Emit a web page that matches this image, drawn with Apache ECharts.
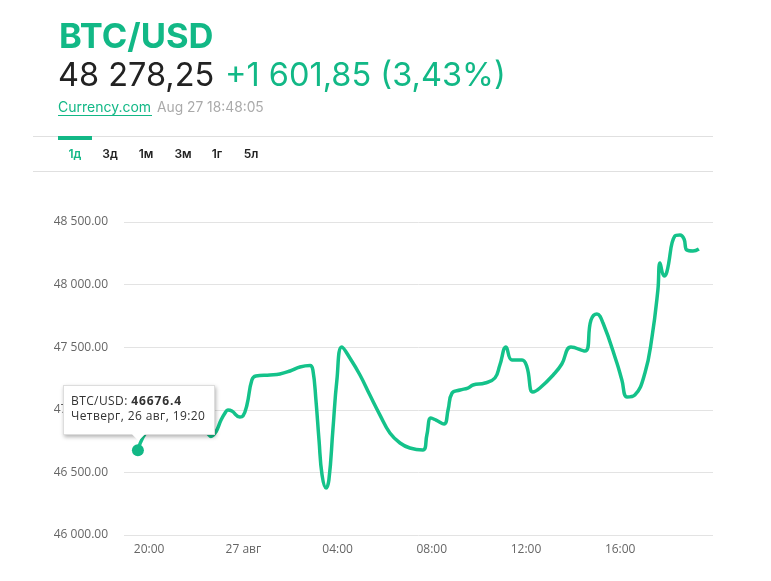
<!DOCTYPE html>
<html>
<head>
<meta charset="utf-8">
<style>html,body{margin:0;padding:0;background:#fff}#main{width:771px;height:581px}</style>
<script src="https://cdn.jsdelivr.net/npm/echarts@6/dist/echarts.min.js"></script>
</head>
<body>
<div id="main"></div>
<script>
// hours counted from 26 aug 00:00
var hours = [19.33,19.55,19.85,20.48,21.12,21.75,22.09,22.31,22.43,22.64,22.86,23.03,23.15,23.32,23.66,23.79,23.96,24.17,24.34,24.94,25.36,25.79,26.21,26.64,26.76,26.89,27.02,27.15,27.32,27.44,27.61,27.78,27.99,28.33,28.76,29.18,29.61,30.03,30.46,30.88,31.43,31.60,31.77,31.99,32.33,32.50,32.67,33.01,33.34,33.56,34.07,34.49,34.70,34.96,35.21,35.64,35.85,36.10,36.40,37.04,37.33,37.72,38.31,38.57,38.82,39.08,39.67,39.88,40.10,40.43,40.86,41.16,41.41,41.50,41.67,41.79,42.13,42.35,42.52,42.64,42.90,43.15];
var prices = [46676.4,46783,46855,46934,46982,46918,46839,46807,46787,46823,46918,46974,46998,46990,46942,46950,47038,47238,47270,47278,47286,47310,47342,47354,47318,47078,46759,46479,46375,46439,46839,47238,47502,47414,47278,47118,46958,46815,46735,46695,46679,46799,46934,46918,46887,46998,47134,47158,47174,47198,47214,47254,47358,47502,47398,47398,47342,47142,47174,47294,47366,47502,47470,47717,47765,47693,47374,47238,47102,47118,47294,47581,47957,48172,48069,48101,48388,48396,48364,48276,48268,48284];
var tickHours = [20,24,28,32,36,40];
var tickLabels = ['20:00','27 авг','04:00','08:00','12:00','16:00'];
var tabs = ['1д','3д','1м','3м','1г','5л'];
var tabX = [75,110,146,183,217,251];

var green = '#12b886';
var lineGreen = '#13b17e';
var chartFont = '"Open Sans"';
var headFont = 'Inter';

var chart = echarts.init(document.getElementById('main'));

var graphics = [
  {type:'text',left:59,top:20,style:{text:'BTC/USD',fill:green,font:'700 34.5px '+headFont}},
  {type:'text',left:58,top:60,style:{text:'48 278,25',fill:'#222',font:'400 32.5px '+headFont}},
  {type:'text',left:225,top:60,style:{text:'+1 601,85 (3,43%)',fill:green,font:'400 32.5px '+headFont}},
  {type:'text',left:58,top:101,style:{text:'Currency.com',fill:green,font:'400 14px '+headFont}},
  {type:'rect',shape:{x:58,y:115,width:94,height:1},style:{fill:green}},
  {type:'text',left:157,top:101,style:{text:'Aug 27 18:48:05',fill:'#aaa',font:'400 13.8px '+headFont}},
  {type:'rect',shape:{x:33,y:136,width:680,height:1},style:{fill:'#e0e0e0'}},
  {type:'rect',shape:{x:33,y:171,width:680,height:1},style:{fill:'#e0e0e0'}},
  {type:'rect',shape:{x:58,y:136,width:34,height:4},style:{fill:green}}
];
tabs.forEach(function (t, i) {
  graphics.push({type:'text',x:tabX[i],y:154,style:{text:t,align:'center',verticalAlign:'middle',fill:i === 0 ? green : '#222',font:'600 12px '+headFont}});
});

var option = {
  animation: false,
  grid: {left:124, right:58, top:222, bottom:46},
  graphic: graphics,
  tooltip: {
    trigger: 'axis',
    alwaysShowContent: true,
    transitionDuration: 0,
    axisPointer: {type:'none'},
    backgroundColor: '#fff',
    borderColor: '#ddd',
    borderWidth: 1,
    padding: [7,7,5,7],
    extraCssText: 'box-shadow:1px 2px 4px rgba(0,0,0,.3);border-radius:0;overflow:visible;width:136px;height:36px;line-height:15px;letter-spacing:.4px;white-space:nowrap;',
    textStyle: {fontFamily:chartFont, fontSize:12, color:'#333'},
    position: function () { return [63, 385]; },
    formatter: function (params) {
      return 'BTC/USD: <b style="letter-spacing:.9px">' + params[0].value[1] + '</b><br>Четверг, 26 авг, 19:20' +
        '<div style="position:absolute;left:70px;bottom:-5px;width:9px;height:9px;background:#fff;transform:rotate(45deg);"></div>';
    }
  },
  xAxis: {
    type: 'value',
    min: 18.74,
    max: 43.75,
    axisLine: {show:false},
    axisTick: {show:false},
    splitLine: {show:false},
    axisLabel: {
      customValues: tickHours,
      margin: 9,
      padding: [0,9,0,0],
      color: '#666',
      fontFamily: chartFont,
      fontSize: 12,
      formatter: function (v) { return tickLabels[tickHours.indexOf(v)]; }
    }
  },
  yAxis: {
    type: 'value',
    min: 46000,
    max: 48500,
    interval: 500,
    axisLine: {show:false},
    axisTick: {show:false},
    splitLine: {lineStyle:{color:'#e3e3e3', width:1}},
    axisLabel: {
      margin: 16,
      padding: [2,0,0,0],
      color: '#666',
      fontFamily: chartFont,
      fontSize: 12,
      formatter: function (v) { return String(v).replace(/(\d\d)(\d{3})/, '$1 $2') + '.00'; }
    }
  },
  series: [{
    type: 'line',
    smooth: 0.45,
    showSymbol: false,
    lineStyle: {color:lineGreen, width:3.5},
    itemStyle: {color:lineGreen},
    data: hours.map(function (h, i) { return [h, prices[i]]; }),
    markPoint: {
      symbol: 'circle',
      symbolSize: 12,
      itemStyle: {color:green},
      label: {show:false},
      data: [{coord:[hours[0], prices[0]]}]
    }
  }]
};
chart.setOption(option);
chart.dispatchAction({type:'showTip', seriesIndex:0, dataIndex:0});
</script>
</body>
</html>
